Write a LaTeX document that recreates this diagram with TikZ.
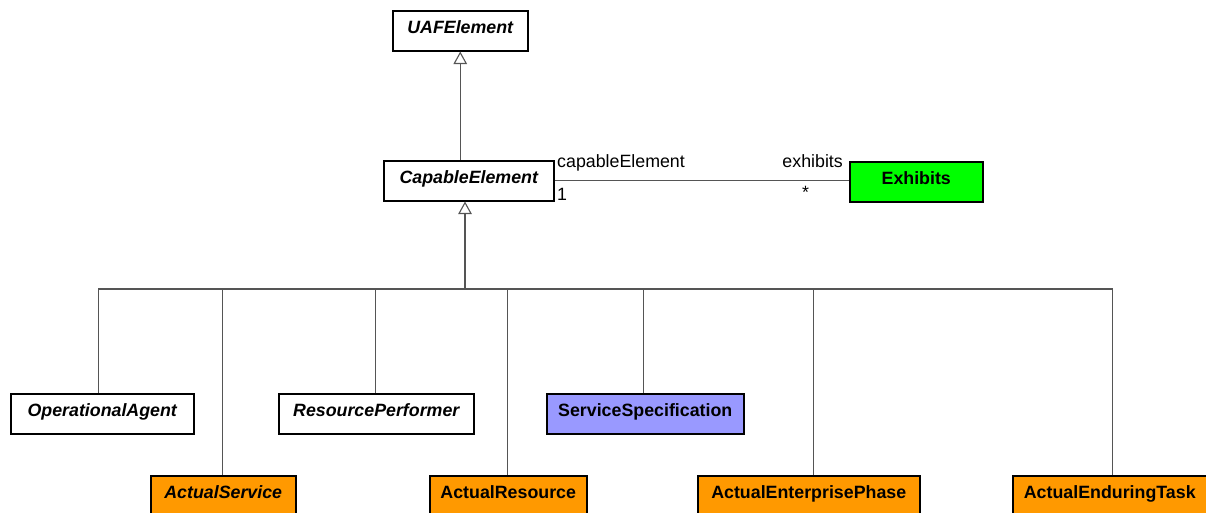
\documentclass[tikz,border=0pt]{standalone}
\usepackage{fontspec}
\setmainfont{Liberation Sans}
\usetikzlibrary{arrows.meta,calc}
\definecolor{actorange}{HTML}{FF9900}
\definecolor{exgreen}{HTML}{00FF00}
\definecolor{specblue}{HTML}{9999FF}
\definecolor{connector}{HTML}{555555}
\tikzset{
  cls/.style={draw=black, line width=1.5pt, anchor=north west, minimum height=40pt,
    inner sep=0pt, text height=13pt, text depth=7pt,
    font=\fontsize{17.8pt}{20pt}\selectfont\bfseries},
  abstract/.style={cls, font=\fontsize{17.8pt}{20pt}\selectfont\bfseries\itshape},
  actual/.style={fill=actorange},
  conn/.style={draw=connector, line width=1.3pt},
  gen/.style={conn, -{Triangle[open, length=12.5pt, width=13.5pt, line width=1.1pt]}},
  lbl/.style={font=\fontsize{17.8pt}{20pt}\selectfont, inner sep=0pt, anchor=base west},
}
\begin{document}
\begin{tikzpicture}[x=1pt,y=-1pt]
\useasboundingbox (0,0) rectangle (1206,512);
\clip (0,0) rectangle (1206,512);
% top level
\node[abstract, minimum width=135pt] (UAF) at (392,10) {UAFElement};
\node[abstract, minimum width=170pt] (CE) at (383,160) {CapableElement};
\node[cls, fill=exgreen, minimum width=133pt] (EX) at (849,161) {Exhibits};
% children
\node[abstract, minimum width=183pt] (OA) at (10,393) {OperationalAgent};
\node[abstract, minimum width=195pt] (RP) at (278,393) {ResourcePerformer};
\node[cls, fill=specblue, minimum width=197pt] (SS) at (546,393) {ServiceSpecification};
\node[abstract, actual, minimum width=145pt] (AS) at (150,475) {ActualService};
\node[cls, actual, minimum width=157pt] (AR) at (429,475) {ActualResource};
\node[cls, actual, minimum width=222pt] (AEP) at (697,475) {ActualEnterprisePhase};
\node[cls, actual, minimum width=194pt] (AET) at (1012,475) {ActualEnduringTask};
% generalization UAF <- CE
\draw[gen] (CE.north -| UAF.south) -- (UAF.south);
% association
\draw[conn] (CE.east |- EX.west) ++(0,-1) coordinate (a1) -- (a1 -| EX.west) coordinate (a2);
\node[lbl] (l1) at (557,167) {capableElement};
\node[lbl] (l2) at (557,200) {1};
\node[lbl, anchor=base east] (l3) at (843,167) {exhibits};
\node[lbl] (l4) at (802,198) {*};
% generalization tree
\coordinate (bus) at (465,289);
\draw[gen] (bus) -- (bus |- CE.south);
\draw[conn] ([xshift=-4pt]OA.north |- bus) -- ([xshift=3pt]AET.north |- bus);
\draw[conn] ([xshift=-4pt]OA.north) -- ([xshift=-4pt]OA.north |- bus);
\draw[conn] ([xshift=-1pt]AS.north) -- ([xshift=-1pt]AS.north |- bus);
\draw[conn] ([xshift=-1pt]RP.north) -- ([xshift=-1pt]RP.north |- bus);
\draw[conn] ([xshift=-1pt]AR.north) -- ([xshift=-1pt]AR.north |- bus);
\draw[conn] ([xshift=-2pt]SS.north) -- ([xshift=-2pt]SS.north |- bus);
\draw[conn] ([xshift=5pt]AEP.north) -- ([xshift=5pt]AEP.north |- bus);
\draw[conn] ([xshift=3pt]AET.north) -- ([xshift=3pt]AET.north |- bus);
\end{tikzpicture}
\end{document}
